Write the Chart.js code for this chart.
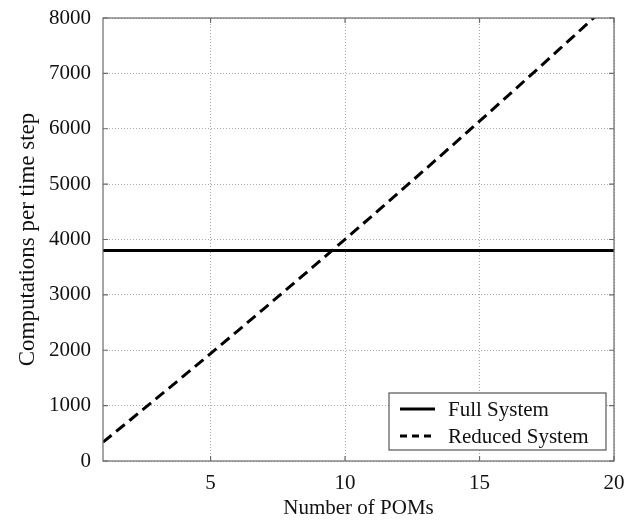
<!DOCTYPE html>
<html>
<head>
<meta charset="utf-8">
<script src="https://cdn.jsdelivr.net/npm/chart.js@4/dist/chart.umd.min.js"></script>
<style>
  html, body { margin: 0; padding: 0; background: #fff; }
  #wrap { width: 626px; height: 521px; }
</style>
</head>
<body>
<div id="wrap"><canvas id="c" width="626" height="521"></canvas></div>
<script>
// Number of POMs (x) and computational cost per time step for each system
const poms = [1, 2, 3, 4, 5, 6, 7, 8, 9, 10, 11, 12, 13, 14, 15, 16, 17, 18, 19, 20];
const fullSystem = [3800, 3800, 3800, 3800, 3800, 3800, 3800, 3800, 3800, 3800,
                    3800, 3800, 3800, 3800, 3800, 3800, 3800, 3800, 3800, 3800];
const reducedSystem = [340, 736, 1135, 1536, 1940, 2347, 2757, 3170, 3585, 4003,
                       4424, 4848, 5275, 5704, 6136, 6571, 7009, 7450, 7893, 8339];
const xTicks = [5, 10, 15, 20];
const seriesLabels = ['Full System', 'Reduced System'];

const FONT = 'Liberation Serif, Times New Roman, serif';
const INK = '#111';

const toPoints = (ys) => poms.map((x, i) => ({ x: x, y: ys[i] }));

// Keep tick labels from enlarging the margins; the layout padding sets them
const noOverflow = (scale) => {
  scale.paddingTop = 0;
  scale.paddingBottom = 0;
  scale.paddingLeft = 0;
  scale.paddingRight = 0;
};

// Frame around the plot with short inward ticks on every side
const framePlugin = {
  id: 'frame',
  afterDatasetsDraw(chart) {
    const { ctx, chartArea: a, scales } = chart;
    ctx.save();
    ctx.strokeStyle = '#6a6a6a';
    ctx.lineWidth = 1.2;
    ctx.setLineDash([]);
    ctx.strokeRect(a.left, a.top, a.right - a.left, a.bottom - a.top);
    const len = 5;
    ctx.beginPath();
    scales.x.ticks.forEach(t => {
      const px = scales.x.getPixelForValue(t.value);
      ctx.moveTo(px, a.bottom); ctx.lineTo(px, a.bottom - len);
      ctx.moveTo(px, a.top); ctx.lineTo(px, a.top + len);
    });
    scales.y.ticks.forEach(t => {
      const py = scales.y.getPixelForValue(t.value);
      ctx.moveTo(a.left, py); ctx.lineTo(a.left + len, py);
      ctx.moveTo(a.right, py); ctx.lineTo(a.right - len, py);
    });
    ctx.stroke();
    ctx.restore();
  }
};

// Boxed legend in the lower right corner of the plot
const boxLegendPlugin = {
  id: 'boxLegend',
  afterDraw(chart) {
    const { ctx, chartArea: a } = chart;
    const w = 217, h = 57;
    const x0 = a.right - 8 - w, y0 = a.bottom - 11 - h;
    ctx.save();
    ctx.fillStyle = '#fff';
    ctx.fillRect(x0, y0, w, h);
    ctx.strokeStyle = '#555';
    ctx.lineWidth = 1.2;
    ctx.setLineDash([]);
    ctx.strokeRect(x0, y0, w, h);
    ctx.font = '21px ' + FONT;
    ctx.fillStyle = INK;
    ctx.textBaseline = 'middle';
    chart.data.datasets.forEach((ds, i) => {
      const cy = y0 + 16 + i * 27;
      ctx.beginPath();
      ctx.strokeStyle = ds.borderColor;
      ctx.lineWidth = ds.borderWidth;
      ctx.setLineDash(i === 0 ? [] : [7, 5]);
      ctx.moveTo(x0 + 11, cy);
      ctx.lineTo(x0 + 46, cy);
      ctx.stroke();
      ctx.setLineDash([]);
      ctx.fillText(ds.label, x0 + 59, cy + 1);
    });
    ctx.restore();
  }
};

new Chart(document.getElementById('c'), {
  type: 'line',
  data: {
    datasets: [
      {
        label: seriesLabels[0],
        data: toPoints(fullSystem),
        borderColor: '#000',
        borderWidth: 3,
        pointRadius: 0,
        fill: false,
        tension: 0
      },
      {
        label: seriesLabels[1],
        data: toPoints(reducedSystem),
        borderColor: '#000',
        borderWidth: 3,
        borderDash: [11, 6],
        pointRadius: 0,
        fill: false,
        tension: 0
      }
    ]
  },
  options: {
    responsive: false,
    animation: false,
    devicePixelRatio: 1,
    layout: { padding: { left: 0, top: 18, right: 12, bottom: 0 } },
    plugins: {
      legend: { display: false },
      tooltip: { enabled: false }
    },
    scales: {
      x: {
        type: 'linear',
        min: 1,
        max: 20,
        afterBuildTicks(scale) { scale.ticks = xTicks.map(v => ({ value: v })); },
        afterFit(scale) { scale.height = 60; noOverflow(scale); },
        grid: { color: '#a8a8a8', lineWidth: 1, drawTicks: false },
        border: { display: false, dash: [1, 2] },
        ticks: {
          font: { family: FONT, size: 21 }, color: INK, padding: 10, maxRotation: 0,
          callback: (v) => String(v)
        },
        title: {
          display: true,
          text: 'Number of POMs',
          font: { family: FONT, size: 21 },
          color: INK,
          padding: { top: -6, bottom: 0 }
        }
      },
      y: {
        type: 'linear',
        min: 0,
        max: 8000,
        afterFit(scale) { scale.width = 103; noOverflow(scale); },
        grid: { color: '#a8a8a8', lineWidth: 1, drawTicks: false },
        border: { display: false, dash: [1, 2] },
        ticks: {
          stepSize: 1000, font: { family: FONT, size: 21 }, color: INK, padding: 12,
          callback: (v) => String(v)
        },
        title: {
          display: true,
          text: 'Computations per time step',
          font: { family: FONT, size: 23 },
          color: INK,
          padding: { top: 14, bottom: 0 }
        }
      }
    }
  },
  plugins: [framePlugin, boxLegendPlugin]
});
</script>
</body>
</html>
